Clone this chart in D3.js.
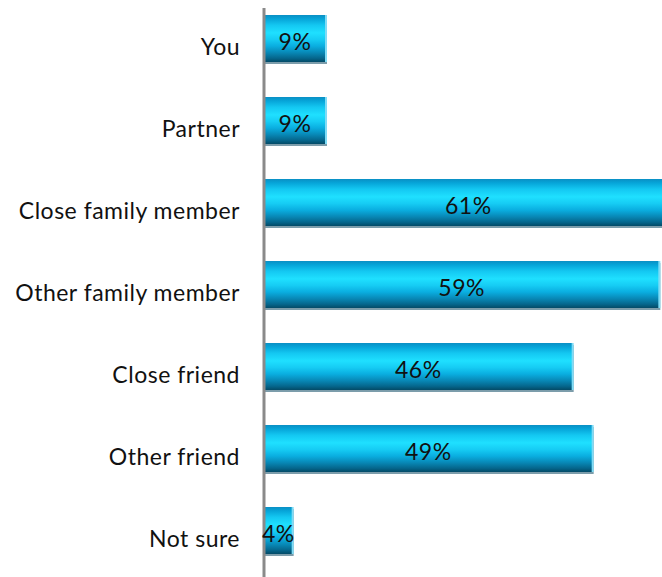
<!DOCTYPE html>
<html>
<head>
<meta charset="utf-8">
<script src="https://cdn.jsdelivr.net/npm/d3@7"></script>
<style>
  html, body { margin: 0; padding: 0; background: #fff; }
  svg { display: block; }
  text { font-family: Lato, "Noto Sans", sans-serif; }
</style>
</head>
<body>
<svg id="chart" width="662" height="577"></svg>
<script>
// Who respondents would turn to (share of respondents, %)
const categories = ["You", "Partner", "Close family member", "Other family member", "Close friend", "Other friend", "Not sure"];
const values = [9, 9, 61, 59, 46, 49, 4];
const valueLabels = ["9%", "9%", "61%", "59%", "46%", "49%", "4%"];

const W = 662, H = 577;
const svg = d3.select("#chart");

const x = d3.scaleLinear().domain([0, 60]).range([265, 665]);
const y = d3.scaleBand().domain(categories).range([-2.5, 571.5])
  .paddingInner(0.427).paddingOuter(0.2135);

// Cylinder-style vertical gradient for the bars
const defs = svg.append("defs");
const grad = defs.append("linearGradient").attr("id", "barGrad")
  .attr("x1", 0).attr("y1", 0).attr("x2", 0).attr("y2", 1);
[
  [0, "#0a8fc4"], [0.08, "#06a4d8"], [0.22, "#14c8f2"], [0.38, "#1fe0ff"],
  [0.52, "#16ccf4"], [0.66, "#0aaee0"], [0.8, "#0888b6"], [0.92, "#05668c"], [1, "#034a66"]
].forEach(([o, c]) => grad.append("stop").attr("offset", o).attr("stop-color", c));

const rows = categories.map((c, i) => ({ cat: c, v: values[i], label: valueLabels[i] }));

const g = svg.append("g");

// Soft shadow below each bar
g.selectAll("rect.shadow").data(rows).join("rect")
  .attr("class", "shadow")
  .attr("x", x(0))
  .attr("y", d => y(d.cat) + 2)
  .attr("width", d => x(d.v) - x(0) + 2)
  .attr("height", y.bandwidth())
  .attr("fill", "#7c9dab");

// Light edge at the bar end
g.selectAll("rect.edge").data(rows).join("rect")
  .attr("class", "edge")
  .attr("x", x(0))
  .attr("y", d => y(d.cat))
  .attr("width", d => x(d.v) - x(0) + 2)
  .attr("height", y.bandwidth())
  .attr("fill", "#7fdcf6");

g.selectAll("rect.bar").data(rows).join("rect")
  .attr("class", "bar")
  .attr("x", x(0))
  .attr("y", d => y(d.cat))
  .attr("width", d => x(d.v) - x(0))
  .attr("height", y.bandwidth())
  .attr("fill", "url(#barGrad)");

// Category axis
const axis = svg.append("g")
  .attr("transform", `translate(240,0)`)
  .call(d3.axisLeft(y).tickSize(0).tickPadding(0));
axis.select(".domain").remove();
axis.selectAll("text")
  .attr("font-family", "Lato, 'Noto Sans', sans-serif")
  .attr("font-size", 23)
  .attr("letter-spacing", 0.5)
  .attr("fill", "#111")
  .attr("dy", null)
  .attr("y", 16.5);

// Vertical baseline
svg.append("line")
  .attr("x1", 264).attr("x2", 264)
  .attr("y1", 8).attr("y2", H)
  .attr("stroke", "#8a8a8a").attr("stroke-width", 3);

// Value labels centred in each bar
svg.selectAll("text.val").data(rows).join("text")
  .attr("class", "val")
  .attr("x", d => (x(0) + x(d.v)) / 2)
  .attr("y", d => y(d.cat) + y.bandwidth() / 2 + 11)
  .attr("text-anchor", "middle")
  .attr("font-size", 23)
  .attr("letter-spacing", 0.5)
  .attr("fill", "#111")
  .text(d => d.label);
</script>
</body>
</html>
